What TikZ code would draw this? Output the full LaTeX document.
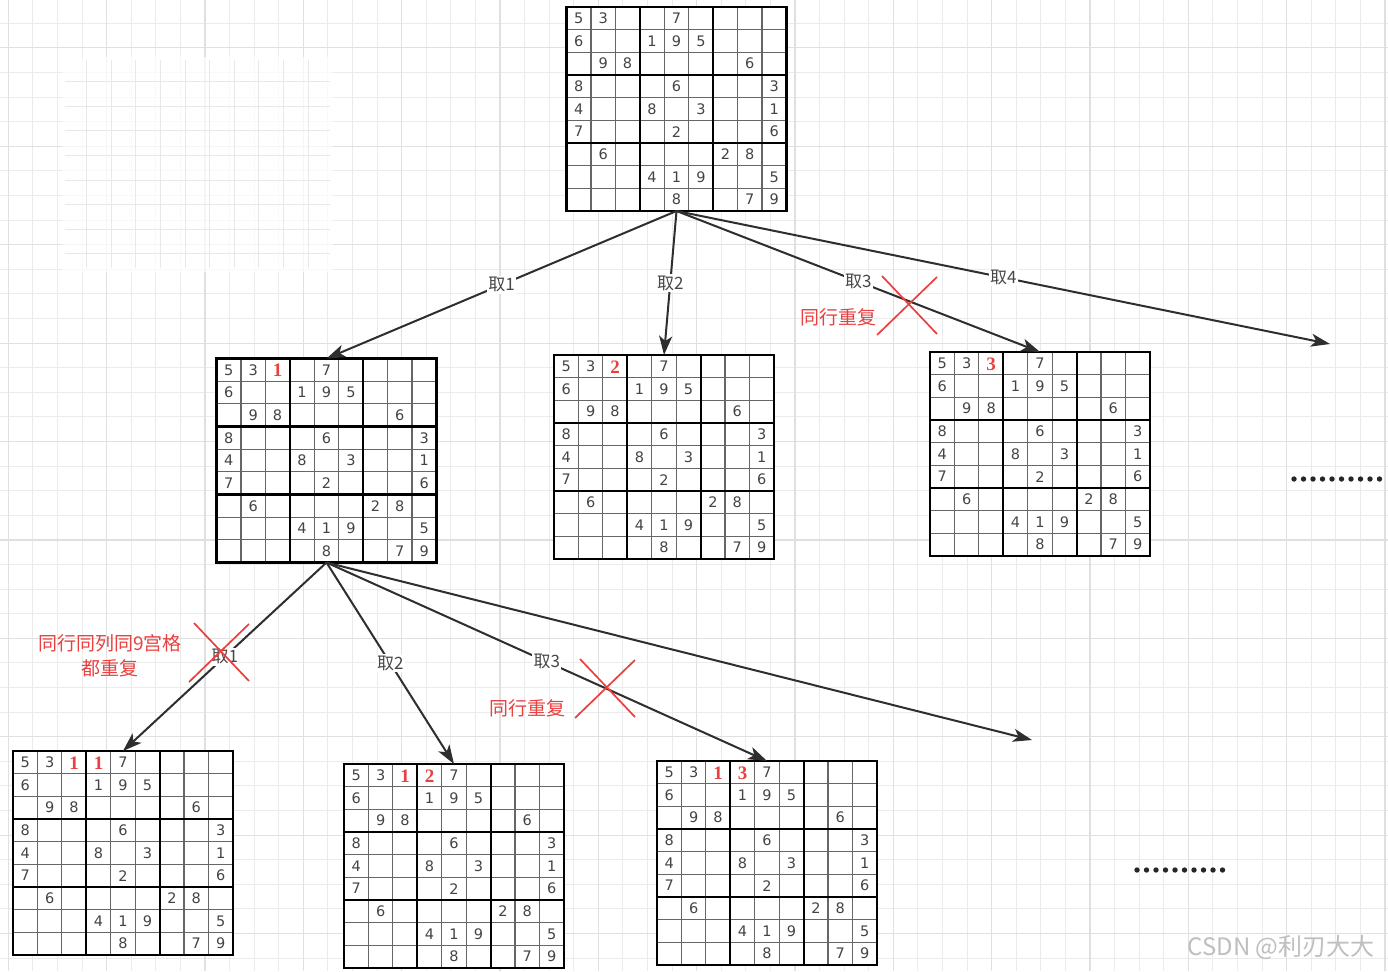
\documentclass[tikz,border=0pt]{standalone}
\usepackage{fontspec}
\setsansfont{DejaVu Sans}
\newfontfamily\cjk{Noto Sans CJK SC}
\newfontfamily\redserif{Liberation Serif}
\usetikzlibrary{arrows.meta,calc}
\definecolor{ink}{HTML}{444444}
\definecolor{xred}{HTML}{E8413F}
\definecolor{gridminor}{HTML}{EBEBEB}
\definecolor{gridmajor}{HTML}{E0E0E0}
\definecolor{mark}{HTML}{BFBFBF}

% givens of the puzzle: column/row/digit
\def\clues{1/1/5,2/1/3,5/1/7,1/2/6,4/2/1,5/2/9,6/2/5,2/3/9,3/3/8,8/3/6,1/4/8,5/4/6,9/4/3,1/5/4,4/5/8,6/5/3,9/5/1,1/6/7,5/6/2,9/6/6,2/7/6,7/7/2,8/7/8,4/8/4,5/8/1,6/8/9,9/8/5,5/9/8,8/9/7,9/9/9}

\newcommand{\drawsudoku}[2]{% name, centre
  \node[board] (#1) at (#2) {};
  \foreach \k in {1,...,8}{
    \draw[cellline] ($(#1.north west)+(\k*24.44,0)$) -- ++(0,204);
    \draw[cellline] ($(#1.north west)+(0,\k*22.67)$) -- ++(220,0);
  }
  \foreach \k in {3,6}{
    \draw[boxline] ($(#1.north west)+(\k*24.44,0)$) -- ++(0,204);
    \draw[boxline] ($(#1.north west)+(0,\k*22.67)$) -- ++(220,0);
  }
  \draw[boxline] (#1.north west) rectangle (#1.south east);
  \foreach \c/\r/\d in \clues
    \node[clue] (#1-\c-\r) at ($(#1.north west)+(\c*24.44-12.22,\r*22.67-11.33)$) {\d};
}
\newcommand{\guess}[3]{% board, column, digit (first row)
  \node[guess] (#1-#2-1) at ($(#1.north west)+(#2*24.44-12.22,11.8)$) {#3};
}

\begin{document}
\begin{tikzpicture}[x=1pt,y=-1pt,>=Stealth,
 board/.style={minimum width=220pt,minimum height=204pt,inner sep=0pt,outer sep=0pt,fill=white},
 cellline/.style={line width=1.2pt,color=black!60},
 boxline/.style={line width=2.2pt,color=black},
 clue/.style={font=\sffamily\fontsize{14.5}{16}\selectfont,text=ink,inner sep=0pt},
 guess/.style={font=\redserif\bfseries\fontsize{19}{21}\selectfont,text=xred,inner sep=0pt},
 arr/.style={-{Stealth[length=19pt,width=13pt,inset=5pt]},line width=2pt,color=black!82},
 take/.style={font=\cjk\fontsize{17}{19}\selectfont,text=black!72,fill=white,inner sep=1.5pt},
 why/.style={font=\cjk\fontsize{19}{25}\selectfont,text=xred,align=center,inner sep=0pt},
 cross/.style={line width=1.7pt,color=xred}]
 \useasboundingbox (0,0) rectangle (1388,971);
 \fill[white] (0,0) rectangle (1388,971);
 % paper grid
 \foreach \k in {0,...,56} \draw[gridminor,line width=1pt] ({8.4+24.58*\k},0) -- ++(0,971);
 \foreach \k in {1,...,39} \draw[gridminor,line width=1pt] (0,{-1.3+24.6*\k}) -- ++(1388,0);
 \foreach \k in {0,...,14} \draw[gridmajor,line width=1.2pt] ({8.4+98.32*\k},0) -- ++(0,971);
 \foreach \k in {0,...,9} \draw[gridmajor,line width=1.2pt] (0,{47.9+98.4*\k}) -- ++(1388,0);
 % faded panel top left
 \fill[white,opacity=0.7] (62,57) rectangle (333,272);
 \foreach \k in {1,...,10} \draw[black!9,line width=0.9pt] ({62+24.6*\k},60) -- ++(0,208);
 \foreach \k in {1,...,8} \draw[black!9,line width=0.9pt] (65,{57+24.6*\k}) -- ++(265,0);

 % boards
 \drawsudoku{g0}{676.5,109}
 \drawsudoku{g1a}{326.5,460.5}
 \drawsudoku{g1b}{664,457}
 \drawsudoku{g1c}{1040,454}
 \drawsudoku{g2a}{123,853}
 \drawsudoku{g2b}{454,866}
 \drawsudoku{g2c}{767,863}
 \guess{g1a}{3}{1}
 \guess{g1b}{3}{2}
 \guess{g1c}{3}{3}
 \guess{g2a}{3}{1}
 \guess{g2a}{4}{1}
 \guess{g2b}{3}{1}
 \guess{g2b}{4}{2}
 \guess{g2c}{3}{1}
 \guess{g2c}{4}{3}

 % branches
 \coordinate (more1) at (1330,344);
 \coordinate (more2) at (1032,740);
 \draw[arr] (g0.south) -- node[take] (t1) {取1} (g1a.north);
 \draw[arr] (g0.south) -- node[take] (t2) {取2} (g1b.north);
 \draw[arr] (g0.south) -- node[take] (t3) {取3} (g1c.north);
 \draw[arr] (g0.south) -- node[take] (t4) {取4} (more1);
 \draw[arr] (g1a.south) -- node[take] (u1) {取1} (g2a.north);
 \draw[arr] (g1a.south) -- node[take] (u2) {取2} (g2b.north);
 \draw[arr] (g1a.south) -- node[take] (u3) {取3} (g2c.north);
 \draw[arr] (g1a.south) -- (more2);

 % rejected branches
 \coordinate (x1) at (908,305);
 \coordinate (x2) at (606,688);
 \coordinate (x3) at (220,652);
 \foreach \p in {x1,x2,x3}{
   \draw[cross] ($(\p)+(-26,-29)$) -- ($(\p)+(29,29)$);
   \draw[cross] ($(\p)+(29,-28)$) -- ($(\p)+(-31,30)$);
 }
 \node[why] (n1) at (838,317) {同行重复};
 \node[why] (n2) at (527,708) {同行重复};
 \node[why] (n3) at (110,656) {同行同列同9宫格\\都重复};

 % more branches
 \foreach \k in {0,...,9} \fill[black!85] ({1294+9.5*\k},479) circle (2.7);
 \foreach \k in {0,...,9} \fill[black!85] ({1137+9.5*\k},870) circle (2.7);

 \node[font=\cjk\fontsize{24}{26}\selectfont,text=mark,inner sep=0pt] (wm) at (1281,947) {CSDN @利刃大大};
\end{tikzpicture}
\end{document}
